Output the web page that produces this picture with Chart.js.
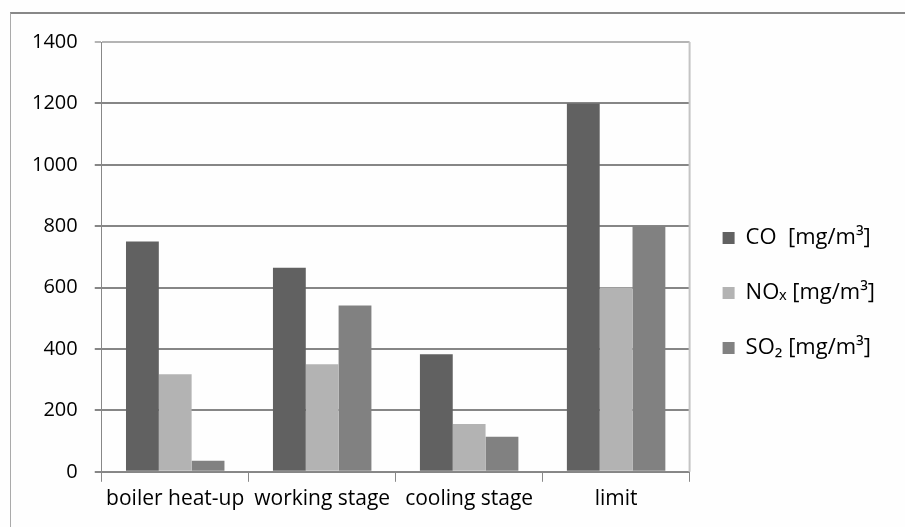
<!DOCTYPE html>
<html>
<head>
<meta charset="utf-8">
<script src="https://cdn.jsdelivr.net/npm/chart.js@4/dist/chart.umd.min.js"></script>
<style>
  html, body { margin: 0; padding: 0; background: #fefefe; }
  #wrap { position: relative; width: 905px; height: 527px; }
  #frame { position: absolute; left: 10px; top: 12px; width: 895px; height: 515px;
           border-top: 2px solid #888; border-left: 1px solid #aaa; box-sizing: border-box; }
  canvas { position: absolute; left: 0; top: 0; }
</style>
</head>
<body>
<div id="wrap">
  <div id="frame"></div>
  <canvas id="barChart"></canvas>
</div>
<script>
const categories = ['boiler heat-up', 'working stage', 'cooling stage', 'limit'];
const seriesNames = ['CO  [mg/m³]', 'NOₓ [mg/m³]', 'SO₂ [mg/m³]'];
const coValues = [750, 665, 383, 1200];
const noxValues = [318, 350, 156, 600];
const so2Values = [36, 542, 114, 800];
const yTicks = [0, 200, 400, 600, 800, 1000, 1200, 1400];

const FONT = "'Open Sans', 'Liberation Sans', sans-serif";

// light frame on the right side of the plot area
const plotEdge = {
    id: 'plotEdge',
    afterDraw(chart) {
        const a = chart.chartArea;
        const c = chart.ctx;
        c.save();
        c.strokeStyle = '#c4c4c4';
        c.lineWidth = 2;
        c.beginPath();
        c.moveTo(a.right, a.top);
        c.lineTo(a.right, a.bottom);
        c.stroke();
        c.restore();
    }
};

const ctx = document.getElementById('barChart').getContext('2d');
const chart = new Chart(ctx, {
    type: 'bar',
    data: {
        labels: categories,
        datasets: [
            { label: seriesNames[0], data: coValues, backgroundColor: '#616161' },
            { label: seriesNames[1], data: noxValues, backgroundColor: '#b3b3b3' },
            { label: seriesNames[2], data: so2Values, backgroundColor: '#818181' }
        ]
    },
    options: {
        responsive: true,
        maintainAspectRatio: false,
        animation: false,
        layout: { padding: { top: 42, left: 15, right: 20, bottom: 10 } },
        datasets: { bar: { categoryPercentage: 0.67, barPercentage: 1.0 } },
        plugins: {
            tooltip: { enabled: false },
            legend: {
                position: 'right',
                title: { display: true, text: ' ', padding: 4, font: { size: 16 } },
                labels: {
                    color: '#000',
                    font: { family: FONT, size: 22 },
                    boxWidth: 12,
                    boxHeight: 12,
                    padding: 33
                }
            }
        },
        scales: {
            x: {
                offset: true,
                grid: {
                    offset: true,
                    drawOnChartArea: false,
                    drawTicks: true,
                    tickLength: 10,
                    color: '#888',
                    lineWidth: 1
                },
                border: { color: '#888', width: 1 },
                ticks: {
                    color: '#000',
                    font: { family: FONT, size: 21 },
                    maxRotation: 0,
                    autoSkip: false,
                    padding: 5
                }
            },
            y: {
                min: 0,
                max: 1400,
                afterBuildTicks: axis => { axis.ticks = yTicks.map(v => ({ value: v })); },
                grid: {
                    color: c => (c.tick && c.tick.value === 1400 ? '#b4b4b4' : '#868686'),
                    lineWidth: 2,
                    tickLength: 7
                },
                border: { color: '#888', width: 1 },
                ticks: {
                    color: '#000',
                    font: { family: FONT, size: 20 },
                    padding: 17,
                    callback: v => String(v)
                }
            }
        }
    },
    plugins: [plotEdge]
});
</script>
</body>
</html>
